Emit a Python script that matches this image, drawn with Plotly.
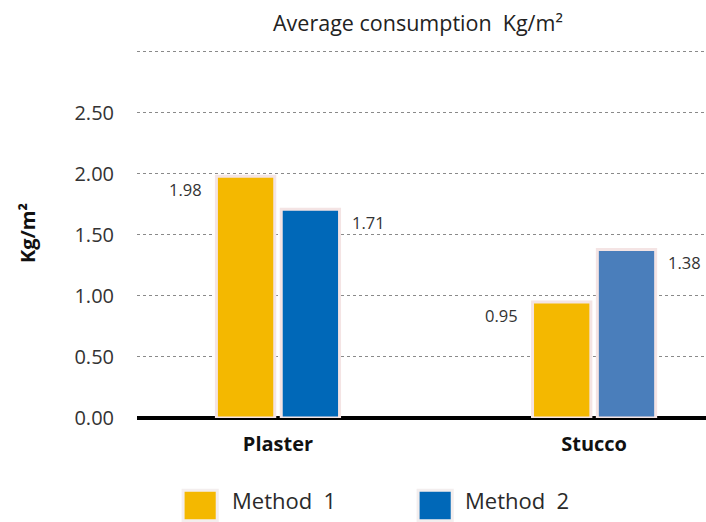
import plotly.graph_objects as go

categories = ["Plaster", "Stucco"]
method1 = [1.98, 0.95]
method2 = [1.71, 1.38]
series_names = ["Method  1", "Method  2"]
tick_vals = [0, 0.5, 1.0, 1.5, 2.0, 2.5, 3.0]
tick_text = ["0.00", "0.50", "1.00", "1.50", "2.00", "2.50", ""]

GOLD = "#F4B800"
BLUE = "#0068B8"
BLUE2 = "#4A7EBB"
FONT = "Open Sans"
TXT = "#333333"

fig = go.Figure()
fig.add_trace(go.Bar(
    x=categories, y=method1, name=series_names[0],
    marker=dict(color=GOLD, line=dict(color="#f4e4e4", width=3)),
    showlegend=False,
))
fig.add_trace(go.Bar(
    x=categories, y=method2, name=series_names[1],
    marker=dict(color=[BLUE, BLUE2], line=dict(color="#f4e4e4", width=3)),
    showlegend=False,
))

annotations = []
for i, cat in enumerate(categories):
    annotations.append(dict(
        x=cat, y=method1[i], xref="x", yref="y", text=f"{method1[i]:.2f}",
        showarrow=False, xanchor="right", yanchor="top", xshift=-74, yshift=0,
        font=dict(family=FONT, size=16.5, color=TXT)))
    annotations.append(dict(
        x=cat, y=method2[i], xref="x", yref="y", text=f"{method2[i]:.2f}",
        showarrow=False, xanchor="left", yanchor="top", xshift=72, yshift=0,
        font=dict(family=FONT, size=16.5, color=TXT)))

# title
annotations.append(dict(
    x=0.494, y=1.0676, xref="paper", yref="paper",
    text="Average consumption  Kg/m²", showarrow=False,
    xanchor="center", yanchor="middle",
    font=dict(family=FONT, size=21.5, color="#222222")))

# manual legend (large square swatches)
shapes = []
legend_colors = [GOLD, BLUE]
sw_x = [0.081, 0.494]
txt_x = [0.163, 0.573]
for k in range(2):
    shapes.append(dict(
        type="rect", xref="paper", yref="paper",
        x0=sw_x[k], x1=sw_x[k] + 0.06, y0=-0.278, y1=-0.195,
        fillcolor=legend_colors[k], line=dict(color="#f3eeee", width=3)))
    annotations.append(dict(
        x=txt_x[k], y=-0.222, xref="paper", yref="paper",
        text=series_names[k], showarrow=False, xanchor="left", yanchor="middle",
        font=dict(family=FONT, size=22, color="#2a2a2a")))

fig.update_layout(
    width=706, height=522,
    margin=dict(l=137, r=0, t=48, b=104),
    paper_bgcolor="white", plot_bgcolor="white",
    barmode="group", bargap=0.59, bargroupgap=0.1,
    annotations=annotations, shapes=shapes,
    showlegend=False,
    font=dict(family=FONT, color=TXT),
)

fig.update_xaxes(
    range=[-0.446, 1.354], showgrid=False, showline=False, zeroline=False,
    ticks="", ticklabelstandoff=12,
    tickfont=dict(family=FONT, size=20, color="#111111", weight="bold"),
)
fig.update_yaxes(
    range=[0, 3.03], tickvals=tick_vals, ticktext=tick_text,
    showgrid=True, gridcolor="#8a8a8a", griddash="dot", gridwidth=1,
    zeroline=True, zerolinecolor="black", zerolinewidth=4,
    showline=False, ticks="", ticklabelstandoff=22,
    tickfont=dict(family=FONT, size=20, color=TXT),
    title=dict(text="Kg/m²", standoff=33,
               font=dict(family=FONT, size=20, color="#111111", weight="bold")),
)

fig.write_html(
    "out.html",
    config={"displayModeBar": False},
    post_script="document.body.style.margin='0';document.body.style.overflow='hidden';",
)
